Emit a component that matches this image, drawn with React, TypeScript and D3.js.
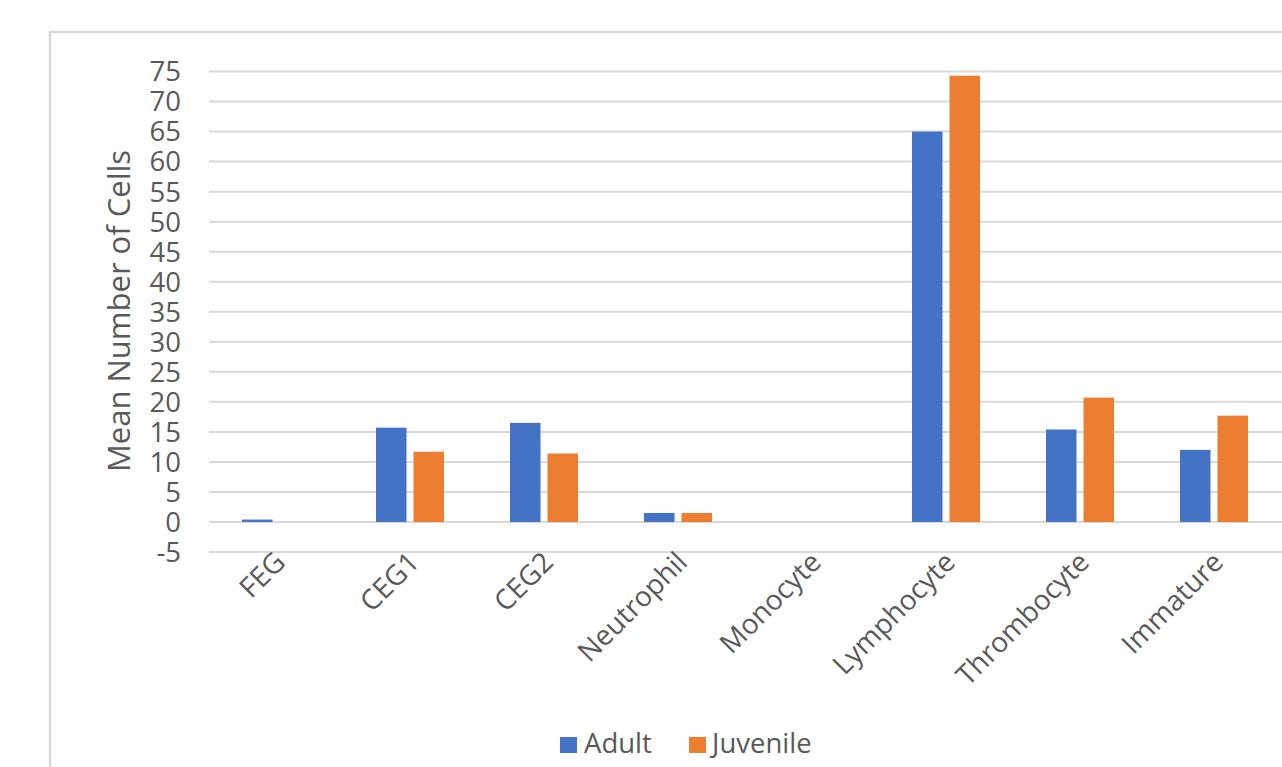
import React from "react";
import * as d3 from "d3";

const categories = ["FEG", "CEG1", "CEG2", "Neutrophil", "Monocyte", "Lymphocyte", "Thrombocyte", "Immature"];
const series = ["Adult", "Juvenile"];
const adultValues = [0.4, 15.7, 16.5, 1.5, 0, 65.0, 15.4, 12.0];
const juvenileValues = [0, 11.7, 11.4, 1.5, 0, 74.3, 20.7, 17.7];
const yTicks = [-5, 0, 5, 10, 15, 20, 25, 30, 35, 40, 45, 50, 55, 60, 65, 70, 75];
const colors = ["#4472C4", "#ED7D31"];

const FONT = "'Open Sans', sans-serif";
const TEXT = "#595959";
const GRID = "#d9d9d9";

export default function App() {
  const W = 1282, H = 767;
  const plotL = 209, plotR = 1281;
  const y = d3.scaleLinear().domain([-5, 75]).range([552, 71.5]);
  const x0 = d3.scaleBand<string>().domain(categories).range([plotL, plotR]).paddingInner(0).paddingOuter(0);
  const groupW = 68;
  const x1 = d3.scaleBand<string>().domain(series).range([0, groupW]).paddingInner(7 / 37.5).paddingOuter(0);
  const data = [adultValues, juvenileValues];

  return (
    <svg width={W} height={H} style={{ position: "absolute", left: 0, top: 0, background: "#fff" }}>
      <rect x={50} y={32} width={1300} height={800} fill="#fff" stroke={GRID} strokeWidth={2.5} />
      {yTicks.map((t) => (
        <g key={t}>
          <line x1={plotL} x2={W} y1={y(t)} y2={y(t)} stroke={GRID} strokeWidth={2} />
          <text x={181} y={y(t)} dy="0.36em" textAnchor="end" fontFamily={FONT} fontSize={27.5} fill={TEXT}>
            {t}
          </text>
        </g>
      ))}
      {categories.map((c, i) => {
        const cx = (x0(c) as number) + x0.bandwidth() / 2;
        const gx = cx - groupW / 2;
        return (
          <g key={c}>
            {series.map((s, j) => {
              const v = data[j][i];
              if (v === 0) return null;
              const top = y(Math.max(v, 0));
              const base = y(0);
              return (
                <rect
                  key={s}
                  x={gx + (x1(s) as number)}
                  y={top}
                  width={x1.bandwidth()}
                  height={Math.max(base - top, 1.5)}
                  fill={colors[j]}
                />
              );
            })}
            <text
              transform={`translate(${cx + 4},${557}) rotate(-45)`}
              textAnchor="end"
              fontFamily={FONT}
              fontSize={28}
              fill={TEXT}
              dy="0.35em"
            >
              {c}
            </text>
          </g>
        );
      })}
      <text
        transform={`translate(${130},${311}) rotate(-90)`}
        textAnchor="middle"
        fontFamily={FONT}
        fontSize={31}
        fill={TEXT}
      >
        Mean Number of Cells
      </text>
      <g>
        <rect x={560} y={737} width={17} height={16} fill={colors[0]} />
        <text x={584} y={753} fontFamily={FONT} fontSize={27.5} fill={TEXT}>Adult</text>
        <rect x={689} y={737} width={17} height={16} fill={colors[1]} />
        <text x={712} y={753} fontFamily={FONT} fontSize={27.5} fill={TEXT}>Juvenile</text>
      </g>
    </svg>
  );
}
